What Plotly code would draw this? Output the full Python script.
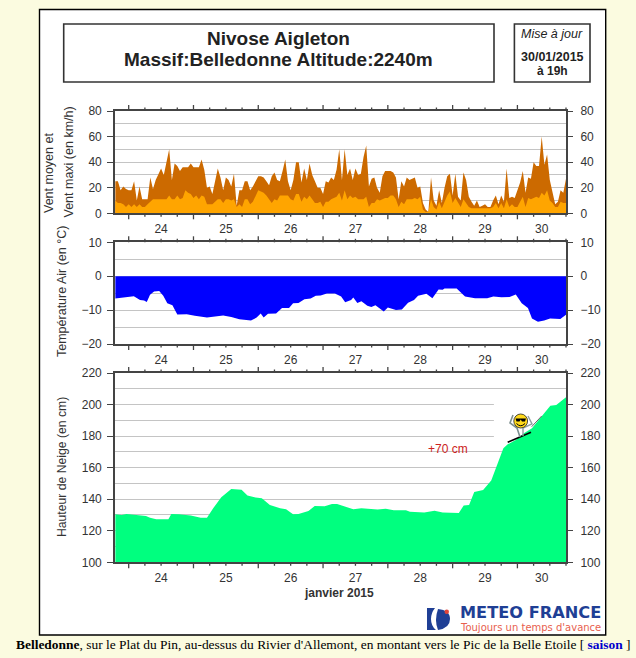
import plotly.graph_objects as go

# ---- data ----
start_day = 23 + 19 / 24  # 23 Jan 19h
end_day = 30.75
wind_max = [25,25,18,21,19,18,18,25,10,21,11,11,11,28,19,26,30,35,30,39,50,26,39,37,33,36,36,36,39,36,36,36,42,34,20,21,
            15,26,35,28,18,28,26,21,31,6,18,18,25,25,18,21,25,29,29,28,25,22,29,32,26,25,33,42,25,18,26,40,40,24,35,26,
            39,30,25,20,20,15,25,24,28,26,34,50,26,50,30,35,26,35,30,31,44,53,21,27,28,20,16,29,33,33,33,32,28,11,25,21,
            28,26,27,28,20,21,8,3,1,28,10,6,18,8,20,29,31,14,31,13,10,32,26,13,9,6,10,5,6,7,5,5,10,14,7,14,9,35,12,13,12,
            18,24,33,16,28,27,40,37,37,60,38,46,26,16,7,9,18,16,27]
wind_mean = [10,8,8,7,5,7,5,7,5,7,5,5,7,9,11,11,11,11,11,11,14,11,11,14,11,12,18,16,15,12,14,11,14,13,7,7,
             7,9,11,11,8,11,11,10,11,5,7,5,11,11,7,9,13,18,17,16,14,11,8,11,10,14,14,14,14,11,10,15,15,9,13,11,
             14,11,8,8,9,5,9,9,11,12,13,16,10,18,11,14,12,13,11,11,11,13,5,8,8,11,10,11,12,12,14,14,11,5,9,7,
             11,11,11,12,11,13,3,1,1,11,5,3,9,4,9,14,17,8,12,8,5,11,8,5,4,4,4,4,4,4,4,4,5,8,4,8,4,11,5,7,5,
             5,9,13,5,12,11,12,13,12,16,14,18,10,8,5,5,9,8,8]
temp_hours = [0,2.4,5.4,6.9,9.2,10.7,11.7,12.9,14.4,16.3,17.8,19.3,21.2,23,26.5,29.5,34,40,43,46,50.3,52.4,53.9,55,56.6,
              59.6,61.8,64.4,65.9,67.9,70.1,72.4,74.3,76.1,78.4,81.4,83.7,85.2,87.4,88.2,89.7,91.2,93.4,94.9,96.4,99.5,
              101,104,106.2,108.5,110.7,112.2,115.3,117.5,119.8,121.3,122,126.5,129.6,133.3,137.8,140.1,143.1,146.1,
              148.4,150.6,152.9,154.4,156.6,158.9,161.1,164.9,167]
temp_vals = [-6.6,-6.4,-6,-5.9,-7,-7.2,-7.6,-5.5,-4.5,-4.4,-5.8,-8,-8.6,-11.3,-11.2,-11.7,-12.2,-11.6,-12,-12.7,-13.1,-12.2,
             -11,-12.2,-11.1,-11,-9.4,-9.4,-8,-7.9,-6.8,-6.6,-5.8,-5.7,-5.1,-5.1,-6,-7.7,-7,-6.3,-7.9,-7.4,-8.7,-9.1,-8.6,
             -10.4,-9.2,-10,-9.8,-7.8,-7,-5.8,-5.2,-6.5,-3.9,-4,-3.6,-3.6,-6,-6.5,-6.5,-6,-6.2,-6.1,-5.4,-8,-9.4,-12.5,
             -13.4,-13.1,-12.5,-12.6,-11.4]
snow_hours = [0,2.4,4.2,6.9,11.4,12.9,15.2,19.7,20.8,23.5,28,31.7,34,36.3,39.3,43,46.8,49,52,54.3,57.3,61.1,63.3,65.9,67.9,
              71.6,73.9,77.6,80.3,82.2,85.2,88.2,91.2,94.9,97.2,100.2,103.2,107.7,109.2,114.5,118.3,121.3,127.3,129.1,
              131.1,133,136.3,139.3,141.6,143.8,145.4,148.4,151.4,154.4,157.4,161.2,163.4,165.7,167]
snow_vals = [130.4,130,130.6,130.2,129.4,128.3,127.3,127.3,130.6,130.4,129.6,128.3,128.3,134.2,141.2,146.5,146,142.3,141,
             140.6,136.3,134.2,133.6,130.4,130.6,132.5,135.7,135.5,137,137,135.3,133.6,134.2,134,133.4,134,133,133,132,
             131.5,132.7,131.5,131.3,136,136.3,144.6,145.8,151.8,161.7,172.3,174.8,177.5,181.8,185,191.3,199.3,199.7,
             202.9,204.6]
day_labels = ["24", "25", "26", "27", "28", "29", "30"]
label_days = [24.5, 25.5, 26.5, 27.5, 28.5, 29.5, 30.375]
first_tick_day = 24
tick_count = 28  # one tick every 6 hours from midnight on the 24th

W, H = 636, 658
BG = "#FBFBE0"
INK = "#333333"
AX = "#444444"
GRID = "#c4c4c4"
SANS = "Liberation Sans"
SERIF = "Liberation Serif"
DEJA = "DejaVu Sans"
PLOT_LEFT, PLOT_RIGHT = 115.2, 566.0


def px(x):
    return x / W


def py(y):
    return 1 - y / H


def to_days(hours):
    return [start_day + h / 24 for h in hours]


def day_to_paper(day):
    return px(PLOT_LEFT + (day - start_day) / (end_day - start_day) * (PLOT_RIGHT - PLOT_LEFT))


def path(*cmds):
    out = []
    for c in cmds:
        if isinstance(c, str):
            out.append(c)
        else:
            out.append(f"{px(c[0]):.5f},{py(c[1]):.5f}")
    return " ".join(out)


fig = go.Figure()

wind_days = to_days(range(len(wind_max)))
fig.add_trace(go.Scatter(x=wind_days, y=wind_max, mode="lines", fill="tozeroy", line=dict(width=0), fillcolor="#CC6A00", hoverinfo="skip", xaxis="x", yaxis="y"))
fig.add_trace(go.Scatter(x=wind_days, y=wind_mean, mode="lines", fill="tozeroy", line=dict(width=0), fillcolor="#FFA500", hoverinfo="skip", xaxis="x", yaxis="y"))
fig.add_trace(go.Scatter(x=to_days(temp_hours), y=temp_vals, mode="lines", fill="tozeroy", line=dict(width=0), fillcolor="#0000FF", hoverinfo="skip", xaxis="x2", yaxis="y2"))
fig.add_trace(go.Scatter(x=to_days(snow_hours), y=snow_vals, mode="lines", fill="tozeroy", line=dict(width=0), fillcolor="#00FF7F", hoverinfo="skip", xaxis="x3", yaxis="y3"))
# transparent companions so the overlay axes are drawn
for i, (xs, ys) in enumerate([(wind_days, wind_max), (to_days(temp_hours), temp_vals), (to_days(snow_hours), snow_vals)]):
    fig.add_trace(go.Scatter(x=xs, y=ys, mode="lines", line=dict(width=0), opacity=0, hoverinfo="skip", xaxis=f"x{i+4}", yaxis=f"y{i+4}"))

panels = [
    dict(top=111, bottom=213.3, rng=[0, 80], dtick=20, tick0=0, minor=10),
    dict(top=242.3, bottom=344, rng=[-20, 10], dtick=10, tick0=0, minor=5),
    dict(top=373, bottom=562.3, rng=[100, 220], dtick=20, tick0=100, minor=10),
]
layout = {}
tfont = dict(family=SANS, size=12, color=INK)
xrange_ = [start_day, end_day]
xdom = [PLOT_LEFT / W, PLOT_RIGHT / W]
for i, p in enumerate(panels):
    n = i + 1
    m = i + 4
    nx = "" if n == 1 else str(n)
    ydom = [1 - p["bottom"] / H, 1 - p["top"] / H]
    layout[f"xaxis{nx}"] = dict(domain=xdom, range=xrange_, anchor=f"y{nx}", showline=True, linecolor=AX, linewidth=2, mirror=True,
                                showticklabels=False, ticks="", showgrid=False, zeroline=False, fixedrange=True)
    layout[f"yaxis{nx}"] = dict(domain=ydom, range=p["rng"], anchor=f"x{nx}", tick0=p["tick0"], dtick=p["dtick"], ticks="outside", ticklen=6,
                                tickcolor=AX, tickwidth=1, tickfont=tfont, showgrid=True, gridcolor=GRID, gridwidth=1.4, zeroline=False,
                                showline=True, linecolor=AX, linewidth=2, mirror=True, ticklabelstandoff=3, fixedrange=True,
                                minor=dict(tick0=p["tick0"], dtick=p["minor"], showgrid=True, gridcolor=GRID, gridwidth=1.4, ticks=""))
    layout[f"xaxis{m}"] = dict(domain=xdom, range=xrange_, anchor=f"y{nx}", overlaying=f"x{nx}", side="bottom", tickmode="array", tickvals=label_days,
                               ticktext=day_labels, ticks="", tickfont=tfont, ticklabelstandoff=7, showline=False,
                               showgrid=False, zeroline=False, fixedrange=True)
    layout[f"yaxis{m}"] = dict(domain=ydom, range=p["rng"], anchor=f"x{nx}", overlaying=f"y{nx}", side="right", tick0=p["tick0"], dtick=p["dtick"],
                               ticks="outside", ticklen=6, tickwidth=1, tickcolor=AX, tickfont=tfont, showgrid=False, zeroline=False, showline=False,
                               ticklabelstandoff=5, fixedrange=True)

L = 1.6
shapes = [
    dict(type="rect", xref="paper", yref="paper", x0=px(39.5), x1=px(605.7), y0=py(635), y1=py(9.5), fillcolor="white", line=dict(color="black", width=1.4), layer="below"),
    dict(type="rect", xref="paper", yref="paper", x0=px(63.7), x1=px(494), y0=py(82), y1=py(24), fillcolor="white", line=dict(color=INK, width=L), layer="below"),
    dict(type="rect", xref="paper", yref="paper", x0=px(514.4), x1=px(590), y0=py(82), y1=py(24), fillcolor="white", line=dict(color=INK, width=L), layer="below"),
]
# day ticks (long) and 6-hour ticks (short), above and below each panel
for p in panels:
    for k in range(tick_count):
        day = first_tick_day + k * 0.25
        length = 6 if k % 4 == 0 else 3.5
        xp = day_to_paper(day)
        shapes.append(dict(type="line", xref="paper", yref="paper", x0=xp, x1=xp, y0=py(p["bottom"]), y1=py(p["bottom"] + length), line=dict(color=AX, width=1.3)))
        shapes.append(dict(type="line", xref="paper", yref="paper", x0=xp, x1=xp, y0=py(p["top"]), y1=py(p["top"] - length), line=dict(color=AX, width=1.3)))
# white patch that hides the grid behind the skier (between grid and snow)
DAYPX = 64.75
shapes.append(dict(type="rect", xref="x3", yref="y3", layer="between", line=dict(width=0), fillcolor="white",
                   x0=24 + (494 - 129) / DAYPX, x1=24 + (566 - 129) / DAYPX, y0=100 + (562.3 - 438) / (189.3 / 120), y1=100 + (562.3 - 403) / (189.3 / 120)))
# skier
shapes += [
    dict(type="line", xref="paper", yref="paper", x0=px(507.7), y0=py(442.3), x1=px(531), y1=py(432.3), line=dict(color="black", width=1.6)),
    dict(type="line", xref="paper", yref="paper", x0=px(531.7), y0=py(426.7), x1=px(541.7), y1=py(416), line=dict(color="#666666", width=1)),
    dict(type="path", xref="paper", yref="paper", path=path("M", (513, 415), "L", (510, 423), "L", (517, 428), "L", (520, 437)), line=dict(color="#7d8f8f", width=1.6)),
    dict(type="path", xref="paper", yref="paper", path=path("M", (528, 416), "L", (532, 424), "L", (523, 428), "L", (523, 436)), line=dict(color="#8f9f9f", width=1.4)),
    dict(type="circle", xref="paper", yref="paper", x0=px(513.8), x1=px(527.6), y0=py(428), y1=py(414), fillcolor="#FFD91A", line=dict(color="#222222", width=0.8)),
    dict(type="path", xref="paper", yref="paper", path=path("M", (515.5, 418.5), "L", (526, 418.5), "L", (525, 421.5), "L", (522, 421.5), "L", (520.7, 419.5), "L", (519.5, 421.5), "L", (516.5, 421.5), "Z"), fillcolor="black", line=dict(width=0)),
    dict(type="path", xref="paper", yref="paper", path=path("M", (516.5, 423.5), "Q", (520.7, 428), (525, 423.5)), line=dict(color="black", width=1)),
]
# logo mark
shapes += [
    dict(type="path", xref="paper", yref="paper", fillcolor="#1F3F95", line=dict(width=0),
         path=path("M", (427, 608), "L", (435, 608), "Q", (431, 613), (431, 619), "Q", (431, 626), (436, 630), "L", (427, 630), "Z")),
    dict(type="path", xref="paper", yref="paper", fillcolor="#1F3F95", line=dict(width=0),
         path=path("M", (438, 609), "Q", (450, 610), (450, 619), "Q", (450, 628), (438, 630), "Q", (434, 620), (438, 609), "Z")),
    dict(type="circle", xref="paper", yref="paper", x0=px(444.5), x1=px(449), y0=py(614), y1=py(609.5), fillcolor="#E0453A", line=dict(width=0)),
]


def note(text, x, y, size=12, color=INK, family=SANS, rot=0, xanchor="center"):
    return dict(text=text, x=px(x), y=py(y), xref="paper", yref="paper", showarrow=False, xanchor=xanchor, yanchor="middle",
                font=dict(family=family, size=size, color=color), textangle=rot, borderpad=0, borderwidth=0)


annotations = [
    note("<b>Nivose Aigleton</b>", 278.5, 38.5, 19, "#222222"),
    note("<b>Massif:Belledonne Altitude:2240m</b>", 278.5, 59, 19, "#222222"),
    note("<i>Mise à jour</i>", 552, 34, 12.5, "#222222"),
    note("<b>30/01/2015</b>", 552, 57, 12.5, "#222222"),
    note("<b>à 19h</b>", 552, 71, 12, "#222222"),
    note("Vent moyen et", 49, 173, 12.5, rot=-90),
    note("Vent maxi (en km/h)", 68.5, 162, 12.5, rot=-90),
    note("Température Air (en °C)", 62, 292, 12.5, rot=-90),
    note("Hauteur de Neige (en cm)", 62, 467, 12.2, rot=-90),
    note("<b>janvier 2015</b>", 339, 592.5, 12),
    note("+70 cm", 448, 448.5, 12, "#CC2222"),
    note("<b>METEO FRANCE</b>", 460, 612.5, 16.2, "#1F3F95", DEJA, xanchor="left"),
    note("Toujours un temps d'avance", 460, 627.5, 10, "#E8604E", DEJA, xanchor="left"),
    note("<b>Belledonne</b>, sur le Plat du Pin, au-dessus du Rivier d'Allemont, en montant vers le Pic de la Belle Etoile [ <span style=\"color:#0000CC\"><b>saison</b></span> ]",
         15.5, 644, 13.45, "black", SERIF, xanchor="left"),
]

fig.update_layout(width=W, height=H, autosize=False, margin=dict(l=0, r=0, t=0, b=0, pad=0, autoexpand=False), paper_bgcolor=BG, plot_bgcolor="white",
                  showlegend=False, shapes=shapes, annotations=annotations, hovermode=False, **layout)
fig.write_html("out.html", config=dict(displayModeBar=False),
               post_script="document.body.style.margin='0';document.body.style.background='#FBFBE0';document.documentElement.style.overflow='hidden';")
